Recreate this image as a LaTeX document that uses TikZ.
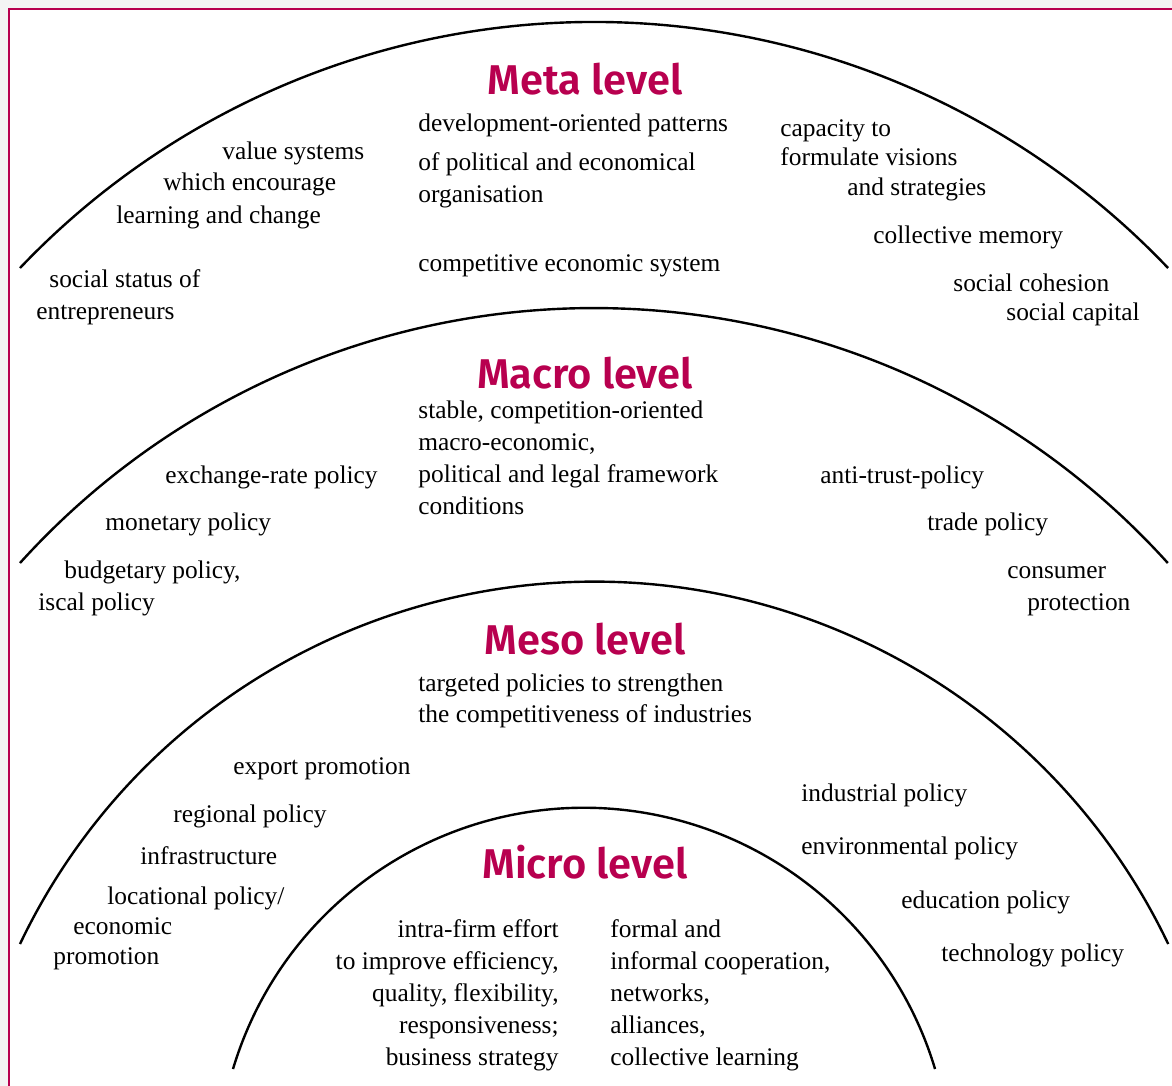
\documentclass[tikz,border=0pt]{standalone}
\usepackage{fontspec}
\setmainfont{Liberation Serif}
\newfontfamily\titlefont{Fira Sans SemiBold}
\usetikzlibrary{positioning}

\definecolor{levelred}{HTML}{B8004F}
\definecolor{pagegray}{HTML}{F4F4F4}

\tikzset{
  txt/.style={font=\fontsize{12.7}{16}\selectfont, inner sep=0pt, anchor=base west},
  txtr/.style={txt, anchor=base east},
  levelname/.style={font=\titlefont\fontsize{20.8}{24}\selectfont, text=levelred, inner sep=0pt, anchor=base},
  levelarc/.style={line width=1.2pt, black}
}

\begin{document}
\begin{tikzpicture}[x=0.5pt, y=-0.5pt]
\useasboundingbox (0,0) rectangle (1172,1086);

% page and red frame (only left and top edge visible)
\fill[pagegray] (0,0) rectangle (1172,1086);
\fill[white] (9,9) rectangle (1172,1086);
\draw[levelred, line width=1.4pt] (9,1086) -- (9,9) -- (1172,9);

% the four level arcs
\draw[levelarc] (20,268) arc[start angle=-136.4, end angle=-43.6, radius=792.7];
\draw[levelarc] (20,563) arc[start angle=-137.9, end angle=-42.1, radius=773.5];
\draw[levelarc] (20,944) arc[start angle=-154.5, end angle=-25.5, radius=636.1];
\draw[levelarc] (233,1069) arc[start angle=-163.3, end angle=-16.7, radius=366.5];

% Meta level
\node[levelname] (meta) at (585,95) {Meta level};
\node[txt] (valsysA) at (222,159) {value systems};
\node[txt] (valsysB) at (163,191) {which encourage};
\node[txt] (valsysC) at (116,223) {learning and change};
\node[txt] (statusA) at (49,287) {social status of};
\node[txt] (statusB) at (36,319) {entrepreneurs};
\node[txt] (patternA) at (418,132) {development-oriented patterns};
\node[txt] (patternB) at (418,170) {of political and economical};
\node[txt] (patternC) at (418,202) {organisation};
\node[txt] (compsys) at (418,271) {competitive economic system};
\node[txt] (visionA) at (780,137) {capacity to};
\node[txt] (visionB) at (780,165) {formulate visions};
\node[txt] (visionC) at (847,195) {and strategies};
\node[txt] (memory) at (873,243) {collective memory};
\node[txt] (cohesion) at (953,291) {social cohesion};
\node[txt] (capital) at (1006,320) {social capital};

% Macro level
\node[levelname] (macro) at (585,388) {Macro level};
\node[txt] (frameA) at (418,418) {stable, competition-oriented};
\node[txt] (frameB) at (418,450) {macro-economic,};
\node[txt] (frameC) at (418,482) {political and legal framework};
\node[txt] (frameD) at (418,514) {conditions};
\node[txt] (exrate) at (165,483) {exchange-rate policy};
\node[txt] (monetary) at (105,530) {monetary policy};
\node[txt] (budgetA) at (64,578) {budgetary policy,};
\node[txt] (budgetB) at (38,610) {iscal policy};
\node[txt] (antitrust) at (820,483) {anti-trust-policy};
\node[txt] (trade) at (927,530) {trade policy};
\node[txt] (consumerA) at (1007,578) {consumer};
\node[txt] (consumerB) at (1027,610) {protection};

% Meso level
\node[levelname] (meso) at (585,654) {Meso level};
\node[txt] (targetA) at (418,691) {targeted policies to strengthen};
\node[txt] (targetB) at (418,722) {the competitiveness of industries};
\node[txt] (export) at (233,774) {export promotion};
\node[txt] (regional) at (173,822) {regional policy};
\node[txt] (infra) at (140,864) {infrastructure};
\node[txt] (locatA) at (107,904) {locational policy/};
\node[txt] (locatB) at (73,934) {economic};
\node[txt] (locatC) at (53,964) {promotion};
\node[txt] (industrial) at (801,801) {industrial policy};
\node[txt] (environ) at (801,854) {environmental policy};
\node[txt] (education) at (901,908) {education policy};
\node[txt] (technology) at (941,961) {technology policy};

% Micro level
\node[levelname] (micro) at (585,878) {Micro level};
\node[txtr] (firmA) at (559,937) {intra-firm effort};
\node[txtr] (firmB) at (559,969) {to improve efficiency,};
\node[txtr] (firmC) at (559,1001) {quality, flexibility,};
\node[txtr] (firmD) at (559,1033) {responsiveness;};
\node[txtr] (firmE) at (559,1065) {business strategy};
\node[txt] (coopA) at (610,937) {formal and};
\node[txt] (coopB) at (610,969) {informal cooperation,};
\node[txt] (coopC) at (610,1001) {networks,};
\node[txt] (coopD) at (610,1033) {alliances,};
\node[txt] (coopE) at (610,1065) {collective learning};
\end{tikzpicture}
\end{document}
